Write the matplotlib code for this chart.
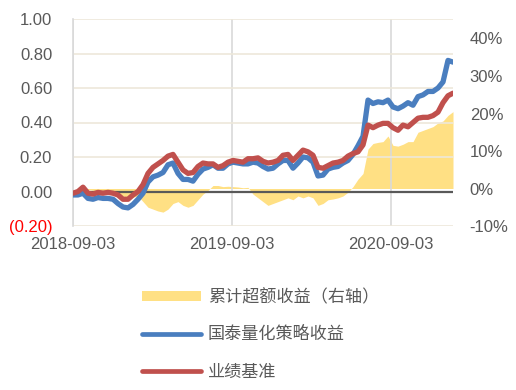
import numpy as np
import pandas as pd
import matplotlib
matplotlib.use("Agg")
import matplotlib.pyplot as plt
from matplotlib.patches import Patch
from matplotlib.lines import Line2D

plt.rcParams['font.family'] = ['Liberation Sans', 'DejaVu Sans']

# cumulative return of the strategy (left axis)
strategy = [-0.02, -0.02, -0.01, -0.04, -0.045, -0.035, -0.04, -0.04, -0.045, -0.07,
            -0.09, -0.095, -0.075, -0.045, -0.01, 0.055, 0.085, 0.095, 0.11, 0.155,
            0.165, 0.105, 0.07, 0.07, 0.06, 0.10, 0.13, 0.14, 0.155, 0.135,
            0.135, 0.16, 0.17, 0.165, 0.16, 0.16, 0.17, 0.165, 0.145, 0.13,
            0.135, 0.16, 0.18, 0.18, 0.135, 0.165, 0.20, 0.195, 0.17, 0.09,
            0.095, 0.13, 0.14, 0.145, 0.165, 0.18, 0.215, 0.265, 0.32, 0.53,
            0.51, 0.52, 0.515, 0.53, 0.49, 0.48, 0.495, 0.515, 0.50, 0.55,
            0.56, 0.58, 0.58, 0.60, 0.635, 0.76, 0.75]

# benchmark (left axis)
benchmark = [-0.01, 0.00, 0.025, -0.01, -0.015, -0.005, -0.01, -0.005, -0.01, -0.02,
             -0.045, -0.045, -0.02, 0.00, 0.04, 0.105, 0.14, 0.16, 0.18, 0.205,
             0.215, 0.17, 0.125, 0.105, 0.11, 0.145, 0.165, 0.16, 0.16, 0.14,
             0.15, 0.17, 0.18, 0.175, 0.17, 0.19, 0.19, 0.195, 0.175, 0.165,
             0.17, 0.18, 0.21, 0.215, 0.18, 0.21, 0.24, 0.23, 0.21, 0.14,
             0.135, 0.15, 0.165, 0.17, 0.18, 0.205, 0.22, 0.23, 0.27, 0.385,
             0.37, 0.385, 0.395, 0.395, 0.37, 0.355, 0.385, 0.375, 0.40, 0.425,
             0.43, 0.43, 0.44, 0.46, 0.515, 0.555, 0.57]

# cumulative excess return (right axis)
excess = [0.0, 0.0, 0.0, -0.003, -0.005, -0.008, -0.008, -0.010, -0.010, -0.015,
          -0.020, -0.025, -0.023, -0.020, -0.035, -0.050, -0.055, -0.060, -0.063, -0.055,
          -0.040, -0.035, -0.045, -0.050, -0.045, -0.030, -0.015, -0.005, 0.008, 0.008,
          0.005, 0.006, 0.005, 0.004, 0.002, 0.003, -0.015, -0.025, -0.035, -0.045,
          -0.040, -0.035, -0.030, -0.025, -0.030, -0.020, -0.025, -0.020, -0.025, -0.045,
          -0.040, -0.030, -0.028, -0.025, -0.020, -0.010, 0.005, 0.025, 0.040, 0.105,
          0.120, 0.123, 0.125, 0.140, 0.115, 0.113, 0.118, 0.125, 0.125, 0.150,
          0.155, 0.160, 0.165, 0.175, 0.180, 0.195, 0.205]

dates = pd.date_range('2018-09-03', '2021-01-23', periods=len(strategy))
tick_dates = ['2018-09-03', '2019-09-03', '2020-09-03']
left_ticks = [-0.2, 0.0, 0.2, 0.4, 0.6, 0.8, 1.0]
right_ticks = [-0.1, 0.0, 0.1, 0.2, 0.3, 0.4]

labels = ['累计超额收益（右轴）', '国泰量化策略收益', '业绩基准']

yellow = '#FFE084'
blue = '#4A7EBF'
red = '#C0504D'
grey = '#595959'

fig = plt.figure(figsize=(5.16, 3.9), dpi=100)
ax = fig.add_axes([73/516, 1-226/390, 380/516, 207/390])
ax2 = ax.twinx()
ax.set_zorder(ax2.get_zorder() + 1)
ax.patch.set_visible(False)

ax2.fill_between(dates, 0, excess, color=yellow, linewidth=0)
ax2.set_ylim(-0.097, 0.452)
ax2.set_yticks(right_ticks)
ax2.set_yticklabels(['{:.0f}%'.format(v*100) for v in right_ticks])

ax.axhline(0, color=grey, lw=1.6, zorder=2)
ax.plot(dates, strategy, color=blue, lw=3.8, zorder=3, solid_capstyle='round')
ax.plot(dates, benchmark, color=red, lw=3.8, zorder=4, solid_capstyle='round')

ax.set_ylim(-0.2, 1.0)
ax.set_yticks(left_ticks)
ax.set_yticklabels(['({:.2f})'.format(-v) if v < 0 else '{:.2f}'.format(v) for v in left_ticks])
ax.set_xlim(dates[0], dates[-1])
ax.set_xticks(pd.to_datetime(tick_dates))
ax.set_xticklabels(tick_dates)

ax.grid(axis='y', color='#EDE8DA', lw=1.2, zorder=1)
ax.grid(axis='x', color='#D9D9D9', lw=1.2, zorder=1)
for a in (ax, ax2):
    for s in a.spines.values():
        s.set_visible(False)
ax.spines['left'].set_visible(True)
ax.spines['left'].set_color('#D9D9D9')
ax.spines['left'].set_linewidth(1.2)

ax.tick_params(axis='y', length=0, pad=15, labelsize=12, labelcolor=grey)
ax.get_yticklabels()[0].set_color('red')
ax.tick_params(axis='x', length=0, pad=8, labelsize=12, labelcolor=grey)
ax2.tick_params(axis='y', length=0, pad=12, labelsize=12, labelcolor=grey)

handles = [Patch(color=yellow, linewidth=0),
           Line2D([], [], color=blue, lw=3.4, solid_capstyle='round'),
           Line2D([], [], color=red, lw=3.4, solid_capstyle='round')]
fig.legend(handles, labels, loc='upper left', bbox_to_anchor=(142/516, 1-288/390),
           frameon=False,
           prop={'family': ['Noto Sans CJK SC', 'DejaVu Sans'], 'size': 12.3, 'weight': 'light'},
           labelcolor=grey, handlelength=3.45, handleheight=0.5, handletextpad=0.4,
           labelspacing=1.13, borderaxespad=0, borderpad=0)

fig.savefig('out.png', dpi=100)
